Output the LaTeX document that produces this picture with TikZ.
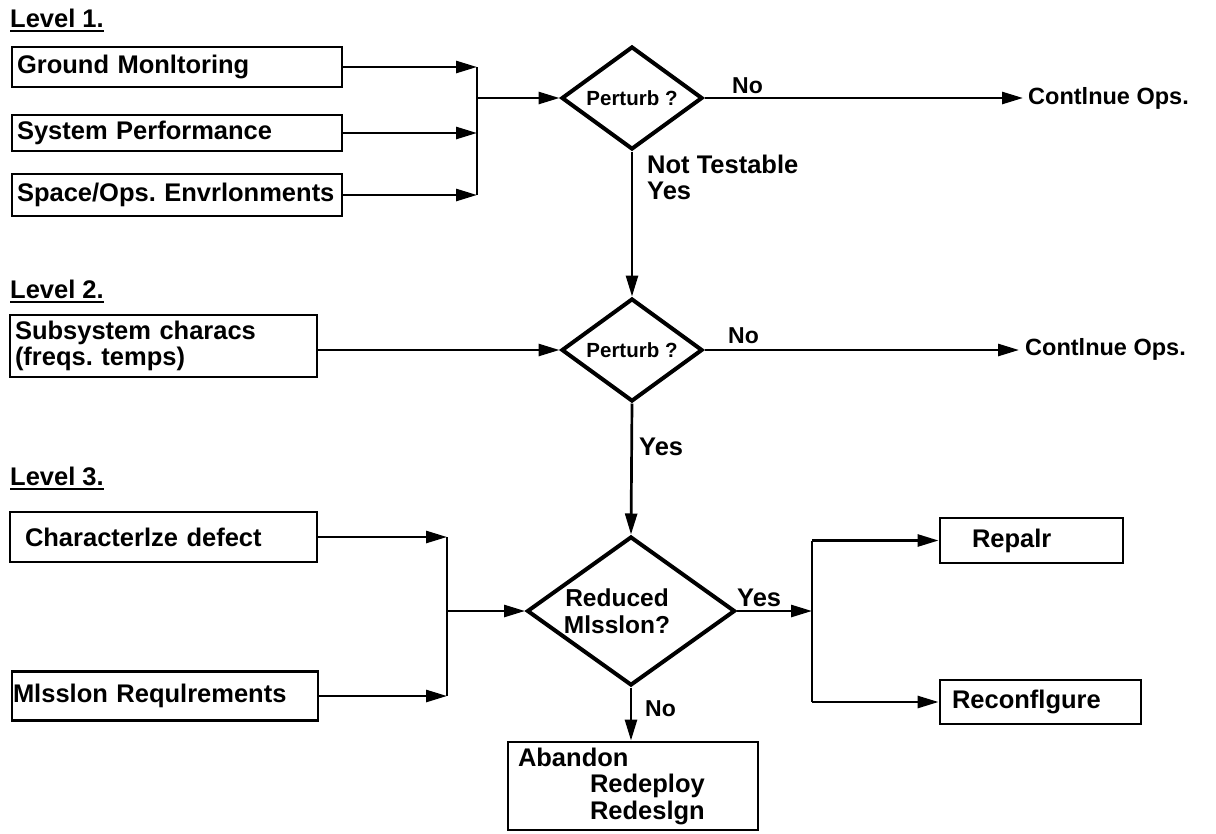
\documentclass[tikz,border=0pt]{standalone}
\usepackage{fontspec}
\setmainfont{Liberation Sans}
\usetikzlibrary{shapes.geometric, arrows.meta}

% type sizes used in the chart
\newcommand{\txtbig}{\fontsize{25.5}{26.5}\selectfont\bfseries}
\newcommand{\txtno}{\fontsize{23}{25}\selectfont\bfseries}
\newcommand{\txtops}{\fontsize{23.5}{25}\selectfont\bfseries}
\newcommand{\txtdia}{\fontsize{24.5}{27}\selectfont\bfseries}
\newcommand{\txtsmall}{\fontsize{20.5}{22}\selectfont\bfseries}
\frenchspacing

\begin{document}
\begin{tikzpicture}[x=1pt, y=-1pt,
  box/.style={draw, line width=2.9pt, align=left, inner ysep=0pt, font=\txtbig},
  decision/.style={draw, diamond, line width=4pt, inner sep=0pt, align=center},
  lbl/.style={inner sep=0pt, anchor=base west, font=\txtbig},
  nolbl/.style={lbl, font=\txtno},
  opslbl/.style={inner sep=0pt, anchor=west, font=\txtops},
  conn/.style={line width=2.7pt},
  arr/.style={conn, -{Triangle[length=21pt, width=12pt]}},
  uline/.style={line width=2.6pt}]

\useasboundingbox (0,0) rectangle (1216,833);

% ---------- Level 1 ----------
\node[lbl] (lv1) at (10,27) {Level 1.};
\draw[uline] ([yshift=-4pt]lv1.base west) -- ([yshift=-4pt]lv1.base east);

\node[box, text width=320pt, inner xsep=5pt, minimum height=40pt] (gm) at (177,67) {\mbox{Ground Monltoring}};
\node[box, text width=320pt, inner xsep=5pt, minimum height=36pt] (sysp) at (177,133) {\mbox{System Performance}};
\node[box, text width=320pt, inner xsep=5pt, minimum height=42pt] (spo) at (177,195) {\mbox{Space/Ops. Envrlonments}};

\node[decision, aspect=1.37, minimum width=141pt, minimum height=103pt, font=\txtsmall] (d1) at (632,98) {Perturb ?};

\coordinate (j1) at (477,98);
\draw[arr] (gm.east) -- (gm.east -| j1);
\draw[arr] (sysp.east) -- (sysp.east -| j1);
\draw[arr] (spo.east) -- (spo.east -| j1);
\draw[conn] (gm.east -| j1) -- (spo.east -| j1);
\draw[arr] (j1) -- (d1.west);

\node[nolbl] (no1) at (732,93) {No};
\node[opslbl] (co1) at (1028,98) {Contlnue Ops.};
\draw[arr] (d1.east) -- ([xshift=-5pt]co1.west);

\node[lbl] (nt) at (647,173) {Not Testable};
\node[lbl] (yes1) at (647,199) {Yes};

% ---------- Level 2 ----------
\node[lbl] (lv2) at (10,298) {Level 2.};
\draw[uline] ([yshift=-4pt]lv2.base west) -- ([yshift=-4pt]lv2.base east);

\node[box, text width=297pt, inner xsep=5pt, minimum height=62pt] (ss) at (163.5,346) {Subsystem characs\\(freqs. temps)};

\node[decision, aspect=1.37, minimum width=141pt, minimum height=103pt, font=\txtsmall] (d2) at (632,350) {Perturb ?};

\draw[arr] (d1.south) -- (d2.north);
\draw[arr] (ss.east |- d2.west) -- (d2.west);

\node[nolbl] (no2) at (728,343) {No};
\node[opslbl] (co2) at (1025,349) {Contlnue Ops.};
\draw[arr] (d2.east) -- ([xshift=-6pt]co2.west |- d2.east);

\node[lbl] (yes2) at (639,455) {Yes};

% ---------- Level 3 ----------
\node[lbl] (lv3) at (10,485) {Level 3.};
\draw[uline] ([yshift=-4pt]lv3.base west) -- ([yshift=-4pt]lv3.base east);

\node[box, text width=277pt, inner xsep=15pt, minimum height=50pt] (cd) at (163.5,537) {\mbox{Characterlze defect}};
\node[box, text width=304pt, inner xsep=1pt, minimum height=49pt] (mr) at (165,696) {\mbox{Mlsslon Requlrements}};

\node[decision, aspect=1.4, minimum width=208pt, minimum height=149pt, font=\txtdia] (d3) at (631,611) {Reduced\hspace*{28pt}\\Mlsslon?\hspace*{28pt}};

\draw[arr] (d2.south) -- (d3.north);

\coordinate (j3) at (447,611);
\draw[arr] (cd.east) -- (cd.east -| j3);
\draw[arr] (mr.east) -- (mr.east -| j3);
\draw[conn] (cd.east -| j3) -- (mr.east -| j3);
\draw[arr] (j3) -- (d3.west);

% outcomes of the level 3 decision
\node[box, text width=119pt, inner xsep=32pt, minimum height=45pt] (rp) at (1031.5,540.5) {Repalr};
\node[box, text width=177pt, inner xsep=12pt, minimum height=44pt] (rc) at (1040.5,702) {Reconflgure};

\coordinate (j4) at (812,611);
\draw[arr] (d3.east) -- (j4);
\draw[conn] (j4 |- rp.west) -- (j4 |- rc.west);
\draw[arr] (j4 |- rp.west) -- (rp.west);
\draw[arr] (j4 |- rc.west) -- (rc.west);
\node[lbl] (yes3) at (737,606) {Yes};

\node[box, text width=230pt, inner xsep=10pt, minimum height=88pt] (ab) at (633,786) {Abandon\\\hspace*{72pt}Redeploy\\\hspace*{72pt}Redeslgn};
\draw[arr] (d3.south) -- (d3.south |- ab.north);
\node[nolbl] (no3) at (645,716) {No};

\end{tikzpicture}
\end{document}
